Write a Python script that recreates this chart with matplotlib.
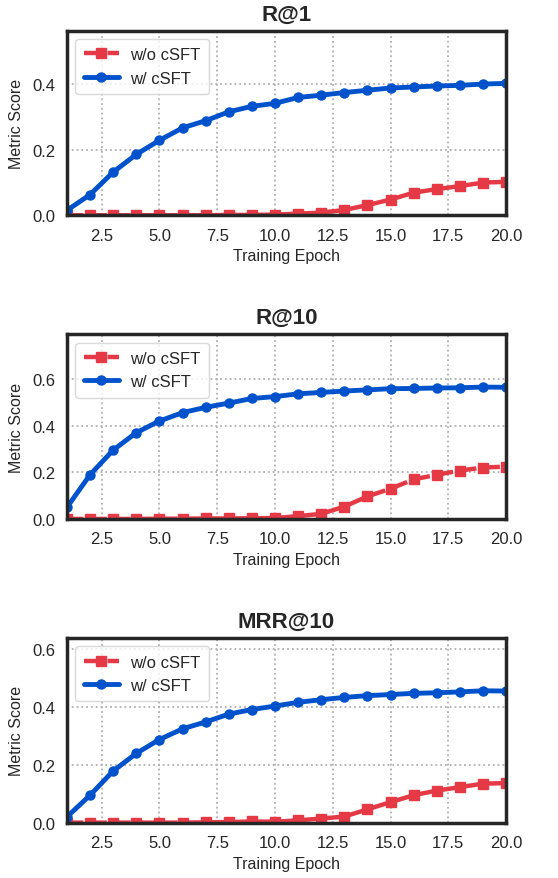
import matplotlib
matplotlib.use("Agg")
import matplotlib.pyplot as plt
import seaborn as sns

epochs = list(range(1, 21))

titles = ["R@1", "R@10", "MRR@10"]

r1_wo = [0.0, 0.0, 0.0, 0.0, 0.0, 0.0, 0.0, 0.001, 0.001, 0.002,
         0.005, 0.008, 0.016, 0.031, 0.048, 0.069, 0.080, 0.089, 0.100, 0.102]
r1_w = [0.015, 0.063, 0.132, 0.186, 0.229, 0.267, 0.289, 0.316, 0.333, 0.342,
        0.360, 0.367, 0.375, 0.382, 0.389, 0.392, 0.395, 0.397, 0.401, 0.403]

r10_wo = [0.0, 0.0, 0.0, 0.0, 0.001, 0.001, 0.002, 0.002, 0.003, 0.004,
          0.012, 0.022, 0.053, 0.097, 0.130, 0.170, 0.190, 0.208, 0.221, 0.225]
r10_w = [0.050, 0.190, 0.296, 0.371, 0.421, 0.457, 0.480, 0.498, 0.518, 0.526,
         0.538, 0.544, 0.550, 0.555, 0.560, 0.561, 0.563, 0.564, 0.567, 0.566]

mrr_wo = [0.0, 0.0, 0.0, 0.0, 0.0, 0.0, 0.001, 0.002, 0.004, 0.003,
          0.008, 0.014, 0.021, 0.046, 0.071, 0.095, 0.111, 0.123, 0.135, 0.137]
mrr_w = [0.020, 0.095, 0.179, 0.240, 0.288, 0.325, 0.349, 0.376, 0.392, 0.404,
         0.417, 0.426, 0.434, 0.440, 0.444, 0.448, 0.450, 0.453, 0.457, 0.456]

series = [(r1_wo, r1_w), (r10_wo, r10_w), (mrr_wo, mrr_w)]

sns.set_style("white")
plt.rcParams['font.family'] = ['Liberation Sans', 'DejaVu Sans']

red = "#E63946"
blue = "#0052CC"

fig, axes = plt.subplots(3, 1, figsize=(5.58, 8.79), dpi=100)
fig.subplots_adjust(left=0.12, right=0.907, top=0.964, bottom=0.063, hspace=0.645)

for ax, title, (wo, w) in zip(axes, titles, series):
    ax.plot(epochs, wo, color=red, linestyle="--", linewidth=3.2, marker="s",
            markersize=7, label="w/o cSFT")
    ax.plot(epochs, w, color=blue, linestyle="-", linewidth=3.5, marker="o",
            markersize=6.5, label="w/ cSFT")
    ax.set_xlim(1, 20)
    ax.set_ylim(0, max(w) * 1.4)
    ax.set_xticks([2.5, 5.0, 7.5, 10.0, 12.5, 15.0, 17.5, 20.0])
    ax.set_yticks([t for t in [0.0, 0.2, 0.4, 0.6] if t <= max(w) * 1.4])
    ax.set_title(title, fontsize=16, fontweight="bold", color="#262626", pad=8)
    ax.set_xlabel("Training Epoch", fontsize=11.5, color="#262626", labelpad=4)
    ax.set_ylabel("Metric Score", fontsize=11.5, color="#262626", labelpad=6)
    ax.tick_params(labelsize=12, colors="#262626", length=0)
    ax.tick_params(axis="x", pad=9)
    ax.tick_params(axis="y", pad=8)
    ax.grid(True, linestyle=":", color="#b0b0b0", linewidth=1.3)
    for s in ax.spines.values():
        s.set_linewidth(2.5)
        s.set_color("#262626")
    leg = ax.legend(loc="upper left", fontsize=12, handlelength=2.1,
                    handletextpad=0.7, frameon=True, borderpad=0.5)
    leg.get_frame().set_edgecolor("#d0d0d0")

fig.savefig("out.png", dpi=100)
